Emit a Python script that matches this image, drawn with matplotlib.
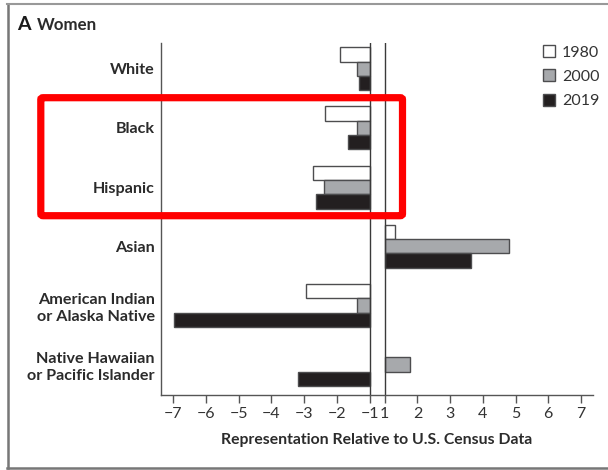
import numpy as np
import matplotlib.pyplot as plt
from matplotlib.patches import Patch, FancyBboxPatch
from matplotlib.lines import Line2D

plt.rcParams['font.family'] = ['Lato', 'DejaVu Sans']

groups = ['White', 'Black', 'Hispanic', 'Asian',
          'American Indian\nor Alaska Native',
          'Native Hawaiian\nor Pacific Islander']
years = ['1980', '2000', '2019']
vals_1980 = [-1.9, -2.37, -2.72, 1.3, -2.93, np.nan]
vals_2000 = [-1.4, -1.4, -2.4, 4.8, -1.4, 1.77]
vals_2019 = [-1.34, -1.67, -2.65, 3.64, -6.97, -3.18]
tick_vals = [-7, -6, -5, -4, -3, -2, -1, 1, 2, 3, 4, 5, 6, 7]

colors = ['white', '#a7a9ac', '#231f20']
edge = '#4d4d4f'
W, H = 608, 470
GAP = 0.46  # visual gap between -1 and +1


def pos(v):
    # the scale skips the interval (-1, 1)
    v = np.asarray(v, dtype=float)
    return np.where(v < 0, v + (1 - GAP / 2), v - (1 - GAP / 2))


def fx(px):
    return px / W


def fy(py):
    return 1 - py / H


fig = plt.figure(figsize=(W / 100, H / 100), dpi=100)
ax = fig.add_axes([fx(161), fy(395), fx(593) - fx(161), fy(43.3) - fy(395)])

y = np.arange(len(groups))
bh = 0.242
offsets = [-bh, 0, bh]
for vals, off, c, lab in zip([vals_1980, vals_2000, vals_2019], offsets, colors, years):
    v = np.array(vals, dtype=float)
    base = np.where(v < 0, pos(-1), pos(1))
    width = pos(v) - base
    ax.barh(y + off, width, left=base, height=bh, color=c, edgecolor=edge,
            linewidth=1.0, label=lab)

ax.axvline(float(pos(-1)), color='#3a3a3a', lw=1.0)
ax.axvline(float(pos(1)), color='#3a3a3a', lw=1.0)

ax.set_xlim(float(pos(-7.376)), float(pos(7.366)))
ax.set_ylim(5.515, -0.43)

ax.set_xticks(pos(tick_vals))
ax.set_xticklabels([str(t).replace('-', '\u2212') for t in tick_vals],
                   fontsize=11.5, color='#333333')
ax.tick_params(axis='x', direction='out', length=6, width=1, color='#555555', pad=3)

ax.set_yticks(y)
ax.set_yticklabels(groups, fontsize=11.6, fontweight='bold', color='#2b2b2b',
                   linespacing=1.27)
ax.tick_params(axis='y', length=0, pad=4.5)

for s in ['top', 'right']:
    ax.spines[s].set_visible(False)
for s in ['left', 'bottom']:
    ax.spines[s].set_color('#555555')
    ax.spines[s].set_linewidth(1.0)

fig.text(fx(377), fy(440), 'Representation Relative to U.S. Census Data',
         ha='center', va='center', fontsize=11.3, fontweight='bold', color='#2b2b2b')

fig.text(fx(17), fy(25), 'A', ha='left', va='center', fontsize=14,
         fontweight='bold', color='#1a1a1a')
fig.text(fx(37), fy(25), 'Women', ha='left', va='center', fontsize=12.2,
         fontweight='bold', color='#2b2b2b')

handles = [Patch(facecolor=c, edgecolor=edge, linewidth=1.0) for c in colors]
fig.legend(handles, years, loc='upper left', bbox_to_anchor=(fx(543), fy(45)),
           frameon=False, fontsize=11.5, handlelength=0.78, handleheight=0.78,
           handletextpad=0.4, labelspacing=0.62, borderpad=0, borderaxespad=0,
           labelcolor='#333333')

# outer panel frame
fig.add_artist(Line2D([fx(7.5), fx(7.5)], [fy(3.5), fy(468)], color='#777777', lw=1.8))
fig.add_artist(Line2D([fx(7), fx(608)], [fy(3.5), fy(3.5)], color='#999999', lw=1.5))
fig.add_artist(Line2D([fx(7), fx(608)], [fy(468), fy(468)], color='#777777', lw=1.8))

# highlight box around Black and Hispanic
fig.add_artist(FancyBboxPatch((fx(40.8), fy(215.7)), fx(402.5) - fx(40.8),
                              fy(97.7) - fy(215.7),
                              boxstyle='round,pad=0,rounding_size=0.004',
                              transform=fig.transFigure, facecolor='none',
                              edgecolor='#ff0000', lw=5.2))

fig.savefig('out.png', dpi=100)
